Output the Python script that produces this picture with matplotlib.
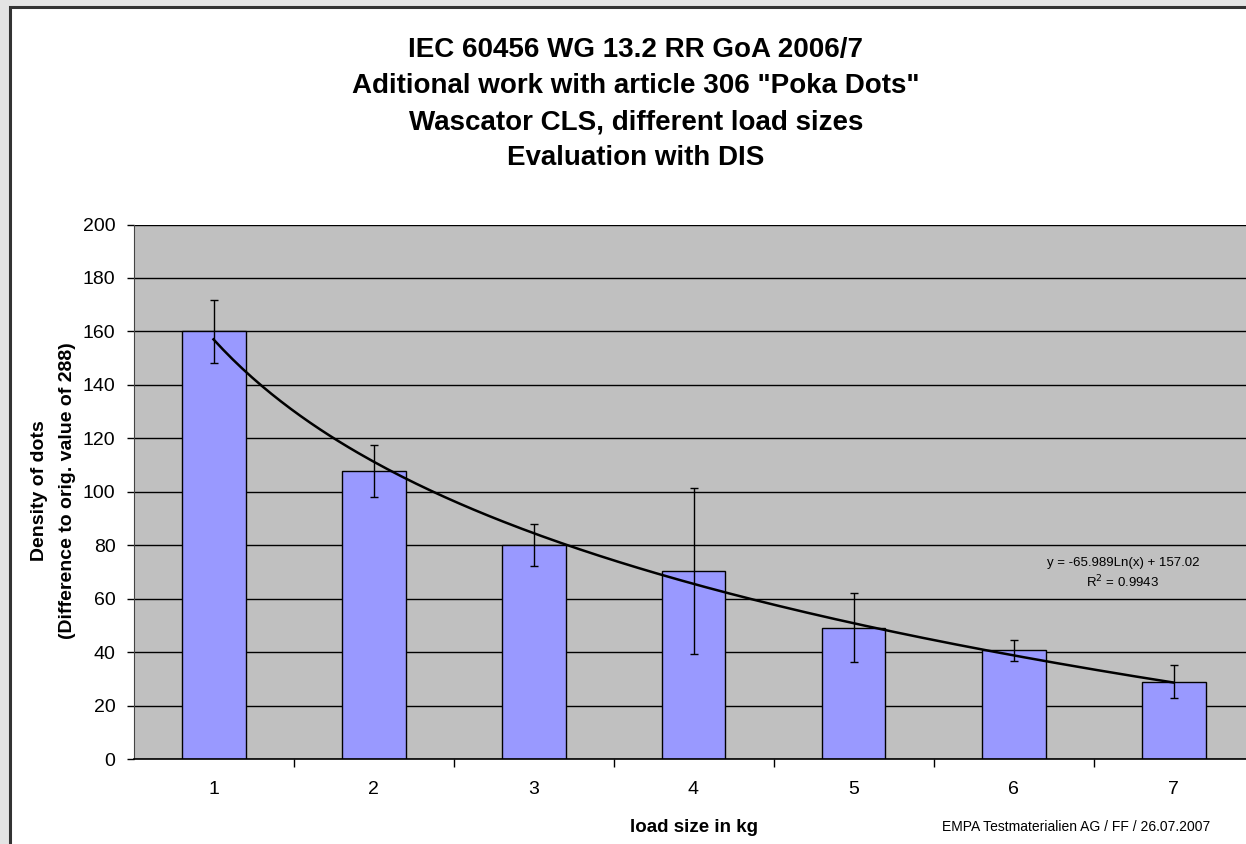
import numpy as np
import matplotlib
matplotlib.use("Agg")
import matplotlib.pyplot as plt
from matplotlib.patches import Rectangle

plt.rcParams['font.family'] = ['Liberation Sans', 'DejaVu Sans']

# data
load_kg = [1, 2, 3, 4, 5, 6, 7]
density = [160.0, 107.7, 80.2, 70.3, 49.2, 40.7, 28.9]
err = [11.7, 9.7, 7.9, 31.0, 13.0, 4.0, 6.1]
fit_a = -65.989
fit_b = 157.02
title_lines = ['IEC 60456 WG 13.2 RR GoA 2006/7',
               'Aditional work with article 306 "Poka Dots"',
               'Wascator CLS, different load sizes',
               'Evaluation with DIS']

W, H = 1246, 844
fig = plt.figure(figsize=(W / 100, H / 100), dpi=100, facecolor='#e4e4e4')

# white chart area with dark frame (right/bottom edges fall outside the image)
fig.patches.append(Rectangle((10 / W, -0.05), 1.1, (H - 7) / H + 0.05,
                             transform=fig.transFigure, facecolor='white',
                             edgecolor='#333333', lw=2.2, zorder=-5))

ax = fig.add_axes([133.5 / W, (H - 759) / H, 1120 / W, (759 - 224.5) / H])
ax.set_zorder(2)
ax.set_facecolor('#c0c0c0')
ax.set_xlim(0.5, 7.5)
ax.set_ylim(0, 200)

ax.bar(load_kg, density, width=0.4, color='#9999ff', edgecolor='black',
       linewidth=1.0, zorder=2)
ax.errorbar(load_kg, density, yerr=err, fmt='none', ecolor='black',
            elinewidth=1.0, capsize=3, capthick=1.0, zorder=3)

xs = np.linspace(1, 7, 200)
ax.plot(xs, fit_a * np.log(xs) + fit_b, color='black', lw=1.8, zorder=4)

ax.set_yticks(np.arange(0, 201, 20))
ax.yaxis.grid(True, color='black', lw=1.0)
ax.set_axisbelow(True)
ax.tick_params(axis='y', direction='out', length=5, width=1, pad=8,
               labelsize=14, colors='black')
ax.set_xticks(load_kg)
ax.set_xticks(np.arange(1.5, 7.5, 1), minor=True)
ax.tick_params(axis='x', which='major', length=0, pad=16, labelsize=14)
ax.tick_params(axis='x', which='minor', direction='out', length=6, width=1)

for s in ['top', 'right']:
    ax.spines[s].set_visible(False)
ax.spines['left'].set_color('#444444')
ax.spines['bottom'].set_color('black')
ax.spines['bottom'].set_linewidth(1.2)

ax.set_xlabel('load size in kg', fontsize=13.5, fontweight='bold', labelpad=15)
fig.text(40 / W, 1 - 491 / H, 'Density of dots', rotation=90, ha='center',
         va='center', fontsize=14, fontweight='bold')
fig.text(68 / W, 1 - 491 / H, '(Difference to orig. value of 288)', rotation=90,
         ha='center', va='center', fontsize=14, fontweight='bold')

for i, line in enumerate(title_lines):
    fig.text(636 / W, 1 - (50 + 36 * i) / H, line, ha='center', va='center',
             fontsize=20, fontweight='bold')

fig.text(1123 / W, 1 - 563 / H, 'y = -65.989Ln(x) + 157.02', ha='center',
         va='center', fontsize=9.5)
fig.text(1123 / W, 1 - 582 / H, 'R$^2$ = 0.9943', ha='center', va='center',
         fontsize=9.5)
fig.text(1210 / W, 1 - 827 / H, 'EMPA Testmaterialien AG / FF / 26.07.2007',
         ha='right', va='center', fontsize=10)

fig.savefig('out.png', dpi=100, facecolor=fig.get_facecolor())
